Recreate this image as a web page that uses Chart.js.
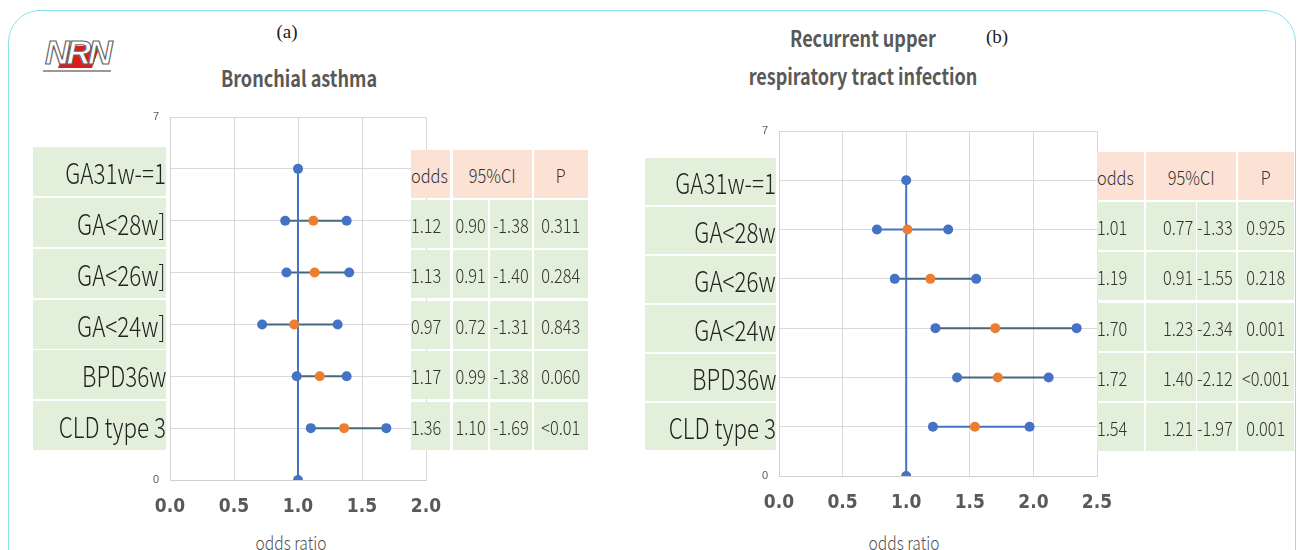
<!DOCTYPE html>
<html>
<head>
<meta charset="utf-8">
<script src="https://cdn.jsdelivr.net/npm/chart.js@4.4.1/dist/chart.umd.min.js"></script>
<style>
  html, body { margin: 0; padding: 0; background: #fff; }
  #page { position: relative; width: 1303px; height: 550px; overflow: hidden; font-family: "Noto Sans CJK JP", "Noto Sans", sans-serif; }
  #frame { position: absolute; left: 8px; top: 10px; width: 1286px; height: 600px; border: 1.5px solid #86e3ea; border-radius: 32px; }
  .c { position: absolute; white-space: nowrap; transform: translate(-50%, -50%) scaleX(0.82); }
  .box { position: absolute; display: flex; align-items: center; overflow: visible; }
  .box span { display: inline-block; white-space: nowrap; }
  .lab { background: #e2efda; justify-content: flex-end; font-size: 28px; font-weight: 300; color: #222; }
  .lab span { transform: scaleX(0.8); transform-origin: right center; }
  .cell { font-size: 19px; font-weight: 300; color: #333; }
  .cell span { transform: scaleX(0.86); }
  .g { background: #e2efda; }
  .h { background: #fbe2d5; }
  .l { justify-content: flex-start; }
  .l span { transform-origin: left center; }
  .r { justify-content: flex-end; padding-right: 3px; box-sizing: border-box; }
  .r span { transform-origin: right center; }
  .m { justify-content: center; }
  canvas { position: absolute; }
</style>
</head>
<body>
<div id="page">
  <div id="frame"></div>

  <!-- logo -->
  <div style="position:absolute;left:62px;top:46px;width:34px;height:22px;background:#e01b1b;transform:skewX(-20deg);"></div>
  <div style="position:absolute;left:45px;top:33px;font:italic bold 34px 'Liberation Sans',sans-serif;color:#fff;-webkit-text-stroke:1.2px #666;letter-spacing:-3px;">NRN</div>
  <div style="position:absolute;left:43px;top:70px;width:68px;height:2px;background:#999;"></div>

  <div class="c" style="left:287px;top:32px;font:19px 'Liberation Serif',serif;color:#222;transform:translate(-50%,-50%);">(a)</div>
  <div class="c" style="left:299px;top:77px;font-size:22px;font-weight:bold;color:#595959;">Bronchial asthma</div>
  <div class="c" style="left:863px;top:37px;font-size:22px;font-weight:bold;color:#595959;">Recurrent upper</div>
  <div class="c" style="left:863px;top:75px;font-size:22px;font-weight:bold;color:#595959;">respiratory tract infection</div>
  <div class="c" style="left:997px;top:37px;font:19px 'Liberation Serif',serif;color:#222;transform:translate(-50%,-50%);">(b)</div>
  <div class="c" style="left:291px;top:541px;font-size:19px;font-weight:300;color:#505050;">odds ratio</div>
  <div class="c" style="left:904px;top:541px;font-size:19px;font-weight:300;color:#505050;">odds ratio</div>

  <canvas id="chartA" width="302" height="441" style="left:140px;top:109px;width:302px;height:441px;"></canvas>
  <canvas id="chartB" width="364" height="427" style="left:749px;top:123px;width:364px;height:427px;"></canvas>
  <div id="overlay"></div>
</div>

<script>
// ---- data ----
const refLabel = 'GA31w-=1';
const asthmaRows = ['GA<28w]', 'GA<26w]', 'GA<24w]', 'BPD36w', 'CLD type 3'];
const asthmaOdds = [1.12, 1.13, 0.97, 1.17, 1.36];
const asthmaLow = [0.90, 0.91, 0.72, 0.99, 1.10];
const asthmaHigh = [1.38, 1.40, 1.31, 1.38, 1.69];
const asthmaP = ['0.311', '0.284', '0.843', '0.060', '<0.01'];

const urtiRows = ['GA<28w', 'GA<26w', 'GA<24w', 'BPD36w', 'CLD type 3'];
const urtiOdds = [1.01, 1.19, 1.70, 1.72, 1.54];
const urtiLow = [0.77, 0.91, 1.23, 1.40, 1.21];
const urtiHigh = [1.33, 1.55, 2.34, 2.12, 1.97];
const urtiP = ['0.925', '0.218', '0.001', '<0.001', '0.001'];

const rowY = [5, 4, 3, 2, 1];
const refLine = [{ x: 1, y: 0 }, { x: 1, y: 6 }];

const blue = '#4472c4';
const orange = '#ed7d31';
const teal = '#44697d';
const asthmaWhisker = [teal, teal, teal, teal, teal];
const urtiWhisker = [blue, teal, teal, teal, blue];

function fmt(v) { return v.toFixed(2); }

function makeChart(id, xMax, low, high, odds, whiskerColors, xAxisHeight) {
    const datasets = [];
    low.forEach((lo, i) => {
        datasets.push({
            data: [{ x: lo, y: rowY[i] }, { x: high[i], y: rowY[i] }],
            showLine: true,
            borderColor: whiskerColors[i],
            borderWidth: 2,
            pointRadius: 0,
            order: 3
        });
    });
    datasets.push({
        data: refLine,
        showLine: true,
        borderColor: blue,
        borderWidth: 2,
        pointRadius: 5,
        pointBackgroundColor: blue,
        pointBorderWidth: 0,
        order: 2
    });
    datasets.push({
        data: low.map((v, i) => ({ x: v, y: rowY[i] })).concat(high.map((v, i) => ({ x: v, y: rowY[i] }))),
        pointRadius: 5,
        pointBackgroundColor: blue,
        pointBorderWidth: 0,
        order: 1
    });
    datasets.push({
        data: odds.map((v, i) => ({ x: v, y: rowY[i] })),
        pointRadius: 5,
        pointBackgroundColor: orange,
        pointBorderWidth: 0,
        order: 0
    });

    const ctx = document.getElementById(id).getContext('2d');
    return new Chart(ctx, {
        type: 'scatter',
        data: { datasets: datasets },
        options: {
            responsive: false,
            animation: false,
            layout: { padding: { top: 8, right: 16, bottom: 0, left: 0 } },
            plugins: { legend: { display: false }, tooltip: { enabled: false } },
            scales: {
                x: {
                    min: 0,
                    max: xMax,
                    ticks: {
                        stepSize: 0.5,
                        padding: 16,
                        color: '#595959',
                        font: { family: 'DejaVu Sans Condensed', weight: 'bold', size: 19 },
                        callback: v => v.toFixed(1)
                    },
                    grid: { color: '#d9d9d9', drawTicks: false },
                    border: { color: '#d0d0d0' },
                    afterFit: scale => {
                        scale.height = xAxisHeight;
                        scale.paddingLeft = 0;
                        scale.paddingRight = 0;
                    }
                },
                y: {
                    min: 0,
                    max: 7,
                    ticks: {
                        stepSize: 1,
                        padding: 11,
                        color: '#595959',
                        font: { family: 'Liberation Sans', size: 11 },
                        callback: v => (v === 0 || v === 7) ? v : ''
                    },
                    grid: { color: '#d9d9d9', drawTicks: false },
                    border: { color: '#d0d0d0' },
                    afterFit: scale => {
                        scale.width = 30;
                        scale.paddingTop = 0;
                        scale.paddingBottom = 0;
                    }
                }
            }
        }
    });
}

makeChart('chartA', 2, asthmaLow, asthmaHigh, asthmaOdds, asthmaWhisker, 70);
makeChart('chartB', 2.5, urtiLow, urtiHigh, urtiOdds, urtiWhisker, 74);

// ---- HTML labels and tables ----
const overlay = document.getElementById('overlay');
function box(cls, x, y, w, h, text) {
    const d = document.createElement('div');
    d.className = 'box ' + cls;
    d.style.left = x + 'px';
    d.style.top = y + 'px';
    d.style.width = w + 'px';
    d.style.height = h + 'px';
    if (text !== undefined) {
        const s = document.createElement('span');
        s.textContent = text;
        d.appendChild(s);
    }
    overlay.appendChild(d);
}

// left labels
const aTops = [147, 198, 249, 300, 350, 401];
[refLabel].concat(asthmaRows).forEach((t, i) => box('lab', 33, aTops[i], 133, 49, t));
// right labels
const bTops = [158, 207, 256, 305, 354, 403];
[refLabel].concat(urtiRows).forEach((t, i) => box('lab', 645, bTops[i], 131, 47, t));

// left table
box('cell h l', 411, 150, 39, 48, 'odds');
box('cell h m', 453, 150, 79, 48, '95%CI');
box('cell h m', 534, 150, 54, 48, 'P');
const aRowTops = [200, 250, 301, 351, 402];
aRowTops.forEach((y, i) => {
    box('cell g l', 411, y, 39, 48, fmt(asthmaOdds[i]));
    box('cell g m', 453, y, 35, 48, fmt(asthmaLow[i]));
    box('cell g m', 490, y, 42, 48, '-' + fmt(asthmaHigh[i]));
    box('cell g m', 534, y, 54, 48, asthmaP[i]);
});

// right table
box('cell h l', 1097, 152, 47, 48, 'odds');
box('cell h m', 1146, 152, 90, 48, '95%CI');
box('cell h m', 1238, 152, 56, 48, 'P');
const bRowTops = [202, 252, 303, 353, 403];
bRowTops.forEach((y, i) => {
    box('cell g l', 1097, y, 47, 48, fmt(urtiOdds[i]));
    box('cell g r', 1146, y, 50, 48, fmt(urtiLow[i]));
    box('cell g l', 1197, y, 39, 48, '-' + fmt(urtiHigh[i]));
    box('cell g m', 1238, y, 56, 48, urtiP[i]);
});
</script>
</body>
</html>
